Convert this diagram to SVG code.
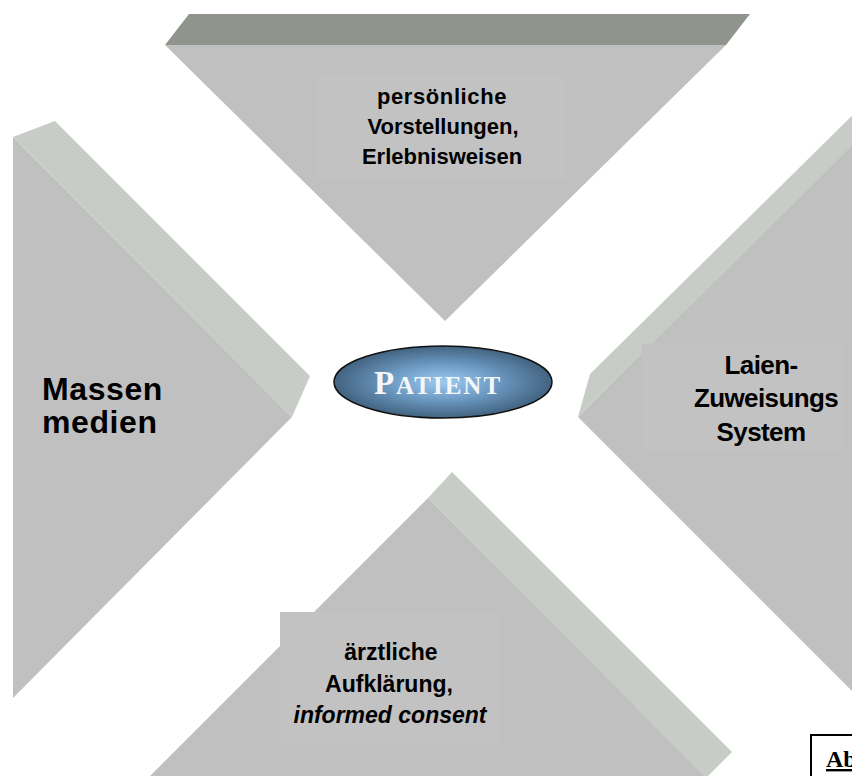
<svg xmlns="http://www.w3.org/2000/svg" width="852" height="776" viewBox="0 0 852 776">
<defs>
<radialGradient id="pg" cx="50%" cy="50%" r="55%">
<stop offset="0" stop-color="#9ccaf0"/>
<stop offset="0.45" stop-color="#6c9ac3"/>
<stop offset="1" stop-color="#3a5873"/>
</radialGradient>
<style>
.tri{fill:#c0c0c0}
.band{fill:#c7ccc6}
.dark{fill:#8f958d}
.box{fill:#c2c2c2}
.lbl{font-family:"Liberation Sans",Arial,sans-serif;font-weight:bold;fill:#000;text-anchor:middle}
.big{font-size:26px;letter-spacing:-0.6px}
.left{font-size:32px;letter-spacing:0.6px;text-anchor:start}
.sm{font-size:22px}
.md{font-size:23px}
</style>
</defs>
<rect width="852" height="776" fill="#fff"/>
<g id="top-node">
<polygon class="dark" points="189,14 750,14 726,45 165,45"/>
<polygon class="tri" points="165,45 726,45 445,321"/>
<rect class="box" x="318" y="74" width="248" height="106"/>
<text class="lbl sm" x="442" y="104" letter-spacing="0.6">persönliche</text>
<text class="lbl sm" x="443" y="134">Vorstellungen,</text>
<text class="lbl sm" x="442" y="164">Erlebnisweisen</text>
</g>
<g id="left-node">
<polygon class="tri" points="13,137 292,417 13,698"/>
<polygon class="band" points="13,137 55,121 310,376 292,417"/>
<text class="lbl left" x="42" y="400">Massen</text>
<text class="lbl left" x="42" y="433">medien</text>
</g>
<g id="right-node">
<polygon class="tri" points="578,417 860,135 860,699"/>
<polygon class="band" points="578,417 590,374 870,98 870,128"/>
<rect class="box" x="642" y="344" width="200" height="106"/>
<text class="lbl big" x="761" y="374">Laien-</text>
<text class="lbl big" x="766" y="407">Zuweisungs</text>
<text class="lbl big" x="761" y="441">System</text>
</g>
<g id="bottom-node">
<polygon class="tri" points="428,498 708,778 148,778"/>
<polygon class="band" points="428,498 452,472 732,752 706,778"/>
<rect class="box" x="280" y="612" width="220" height="132"/>
<text class="lbl md" x="391" y="660">ärztliche</text>
<text class="lbl md" x="389" y="692">Aufklärung,</text>
<text class="lbl md" x="390" y="723" font-style="italic">informed consent</text>
</g>
<g id="patient-node">
<ellipse cx="443" cy="382" rx="109" ry="36" fill="url(#pg)" stroke="#111" stroke-width="1.5"/>
<text x="438" y="394" text-anchor="middle" font-family="'Liberation Serif','Times New Roman',serif" font-weight="bold" fill="#f4f6f8" letter-spacing="2"><tspan font-size="33">P</tspan><tspan font-size="25">ATIENT</tspan></text>
</g>
<g id="connectors"/>
<g id="caption">
<rect x="811" y="735" width="60" height="50" fill="#fff" stroke="#000" stroke-width="2"/>
<text x="826" y="767" font-family="'Liberation Serif','Times New Roman',serif" font-weight="bold" font-size="24" text-decoration="underline">Ab</text>
</g>
</svg>
